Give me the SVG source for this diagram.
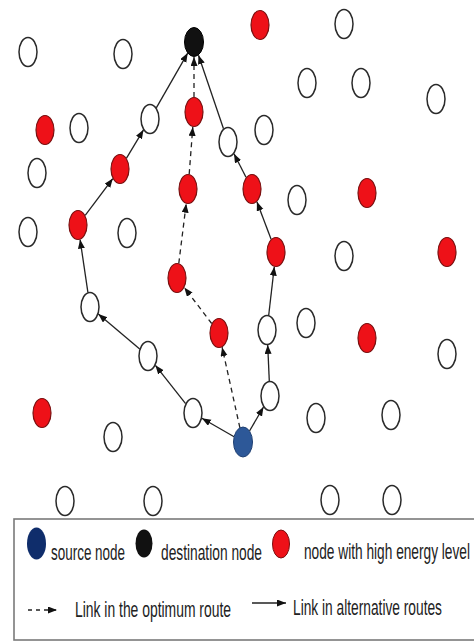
<svg xmlns="http://www.w3.org/2000/svg" width="474" height="643" viewBox="0 0 474 643">
<style>
.w{fill:#ffffff;stroke:#2a2a2a;stroke-width:1.5}
.r{fill:#ee1118;stroke:#7a1010;stroke-width:1.2}
.k{fill:#111111;stroke:#000000;stroke-width:1}
.b{fill:#2d5898;stroke:#1e3f72;stroke-width:1}
.e{stroke:#222222;stroke-width:1.3;fill:none;marker-end:url(#ah)}
.d{stroke-dasharray:5 4}
.t{font-family:"Liberation Sans",Arial,sans-serif;font-size:14px;fill:#222222}
</style>
<defs>
<marker id="ah" markerUnits="userSpaceOnUse" markerWidth="10" markerHeight="8" refX="9" refY="3.5" orient="auto">
<path d="M0,0 L9,3.5 L0,7 z" fill="#111111" stroke="none"/>
</marker>
</defs>
<rect width="474" height="643" fill="#ffffff"/>
<g id="connectors">
<line class="e" x1="234.1" y1="436.8" x2="201.9" y2="418.2"/>
<line class="e" x1="185.6" y1="403.7" x2="155.4" y2="365.3"/>
<line class="e" x1="139.7" y1="349" x2="98.3" y2="314"/>
<line class="e" x1="87.9" y1="292.4" x2="80.1" y2="239.6"/>
<line class="e" x1="85.2" y1="215.4" x2="112.8" y2="178.6"/>
<line class="e" x1="126.5" y1="158.2" x2="143.5" y2="129.8"/>
<line class="e" x1="156.3" y1="107.9" x2="187.7" y2="53.1"/>
<line class="e" x1="249.5" y1="431" x2="263.5" y2="407"/>
<line class="e" x1="269.3" y1="381.1" x2="267.7" y2="344.9"/>
<line class="e" x1="268.7" y1="315.3" x2="274.3" y2="266.7"/>
<line class="e" x1="271.1" y1="239.2" x2="256.9" y2="201.8"/>
<line class="e" x1="246" y1="177.3" x2="234" y2="153.7"/>
<line class="e" x1="223.5" y1="128.8" x2="198.5" y2="55.2"/>
<line class="e d" x1="239.9" y1="427.8" x2="222.1" y2="347.2"/>
<line class="e d" x1="211.7" y1="323.5" x2="184.3" y2="287.5"/>
<line class="e d" x1="178.8" y1="263.3" x2="186.2" y2="203.7"/>
<line class="e d" x1="189.2" y1="174.1" x2="192.8" y2="126.9"/>
<line class="e d" x1="194" y1="97" x2="194" y2="57"/>
</g>
<g id="n1"><ellipse class="w" cx="28" cy="52" rx="9" ry="14.5"/></g>
<g id="n2"><ellipse class="w" cx="123" cy="54" rx="9" ry="14.5"/></g>
<g id="destination"><ellipse class="k" cx="194" cy="42" rx="9.5" ry="14.5"/></g>
<g id="n4"><ellipse class="r" cx="260" cy="25" rx="9" ry="14.5"/></g>
<g id="n5"><ellipse class="w" cx="344" cy="24" rx="9" ry="14.5"/></g>
<g id="n6"><ellipse class="w" cx="307" cy="83" rx="9" ry="14.5"/></g>
<g id="n7"><ellipse class="w" cx="361" cy="83" rx="9" ry="14.5"/></g>
<g id="n8"><ellipse class="w" cx="436" cy="99" rx="9" ry="14.5"/></g>
<g id="n9"><ellipse class="r" cx="45" cy="130" rx="9" ry="14.5"/></g>
<g id="n10"><ellipse class="w" cx="79" cy="128" rx="9" ry="14.5"/></g>
<g id="n11"><ellipse class="w" cx="150" cy="119" rx="9" ry="14.5"/></g>
<g id="n12"><ellipse class="r" cx="194" cy="112" rx="9" ry="14.5"/></g>
<g id="n13"><ellipse class="w" cx="228" cy="142" rx="9" ry="14.5"/></g>
<g id="n14"><ellipse class="w" cx="264" cy="130" rx="9" ry="14.5"/></g>
<g id="n15"><ellipse class="w" cx="37" cy="173" rx="9" ry="14.5"/></g>
<g id="n16"><ellipse class="r" cx="120" cy="169" rx="9" ry="14.5"/></g>
<g id="n17"><ellipse class="r" cx="188" cy="189" rx="9" ry="14.5"/></g>
<g id="n18"><ellipse class="r" cx="252" cy="189" rx="9" ry="14.5"/></g>
<g id="n19"><ellipse class="w" cx="297" cy="200" rx="9" ry="14.5"/></g>
<g id="n20"><ellipse class="r" cx="367" cy="193" rx="9" ry="14.5"/></g>
<g id="n21"><ellipse class="w" cx="28" cy="232" rx="9" ry="14.5"/></g>
<g id="n22"><ellipse class="r" cx="78" cy="225" rx="9" ry="14.5"/></g>
<g id="n23"><ellipse class="w" cx="127" cy="233" rx="9" ry="14.5"/></g>
<g id="n24"><ellipse class="r" cx="177" cy="278" rx="9" ry="14.5"/></g>
<g id="n25"><ellipse class="r" cx="276" cy="252" rx="9" ry="14.5"/></g>
<g id="n26"><ellipse class="w" cx="344" cy="256" rx="9" ry="14.5"/></g>
<g id="n27"><ellipse class="r" cx="447" cy="252" rx="9" ry="14.5"/></g>
<g id="n28"><ellipse class="w" cx="90" cy="307" rx="9" ry="14.5"/></g>
<g id="n29"><ellipse class="r" cx="219" cy="333" rx="9" ry="14.5"/></g>
<g id="n30"><ellipse class="w" cx="306" cy="323" rx="9" ry="14.5"/></g>
<g id="n31"><ellipse class="w" cx="267" cy="330" rx="9" ry="14.5"/></g>
<g id="n32"><ellipse class="r" cx="367" cy="338" rx="9" ry="14.5"/></g>
<g id="n33"><ellipse class="w" cx="148" cy="356" rx="9" ry="14.5"/></g>
<g id="n34"><ellipse class="w" cx="447" cy="354" rx="9" ry="14.5"/></g>
<g id="n35"><ellipse class="r" cx="42" cy="413" rx="9" ry="14.5"/></g>
<g id="n36"><ellipse class="w" cx="193" cy="413" rx="9" ry="14.5"/></g>
<g id="n37"><ellipse class="w" cx="270" cy="396" rx="9" ry="14.5"/></g>
<g id="n38"><ellipse class="w" cx="316" cy="418" rx="9" ry="14.5"/></g>
<g id="n39"><ellipse class="w" cx="391" cy="415" rx="9" ry="14.5"/></g>
<g id="n40"><ellipse class="w" cx="113" cy="437" rx="9" ry="14.5"/></g>
<g id="source"><ellipse class="b" cx="243" cy="442" rx="9.5" ry="15"/></g>
<g id="n42"><ellipse class="w" cx="65" cy="501" rx="9" ry="14.5"/></g>
<g id="n43"><ellipse class="w" cx="153" cy="501" rx="9" ry="14.5"/></g>
<g id="n44"><ellipse class="w" cx="330" cy="500" rx="9" ry="14.5"/></g>
<g id="n45"><ellipse class="w" cx="392" cy="500" rx="9" ry="14.5"/></g>
<g id="legend">
<rect x="14" y="519" width="470" height="121" fill="#ffffff" stroke="#7a7a7a" stroke-width="1.6"/>
<ellipse cx="36.5" cy="543.5" rx="9.5" ry="16" fill="#0f2d6b"/>
<text class="t" transform="translate(51,560) scale(1,1.6)" textLength="74" lengthAdjust="spacingAndGlyphs">source node</text>
<ellipse cx="144" cy="543.5" rx="8.5" ry="14" fill="#111111"/>
<text class="t" transform="translate(161,560) scale(1,1.6)" textLength="101" lengthAdjust="spacingAndGlyphs">destination node</text>
<ellipse cx="281" cy="544" rx="8.5" ry="14" fill="#ee1118" stroke="#7a1010" stroke-width="1"/>
<text class="t" transform="translate(304,559) scale(1,1.6)" textLength="166" lengthAdjust="spacingAndGlyphs">node with high energy level</text>
<line x1="28" y1="610" x2="57" y2="610" stroke="#222222" stroke-width="1.3" stroke-dasharray="4 4" marker-end="url(#ah)"/>
<text class="t" transform="translate(75,617) scale(1,1.6)" textLength="156" lengthAdjust="spacingAndGlyphs">Link in the optimum route</text>
<line x1="252" y1="603" x2="286" y2="603" stroke="#222222" stroke-width="1.5" marker-end="url(#ah)"/>
<text class="t" transform="translate(293,615) scale(1,1.6)" textLength="149" lengthAdjust="spacingAndGlyphs">Link in alternative routes</text>
</g>
</svg>
